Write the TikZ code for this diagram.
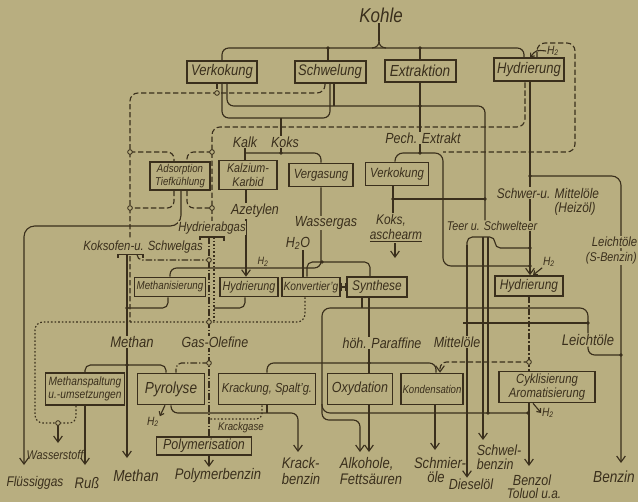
\documentclass[tikz,border=0pt]{standalone}
\usepackage{fontspec}
\setmainfont{Liberation Sans}[FakeStretch=0.85]
\usetikzlibrary{arrows.meta}
\pgfdeclarelayer{back}
\pgfdeclarelayer{lines}
\pgfsetlayers{back,lines,main}
\definecolor{bg}{RGB}{184,174,128}
\definecolor{ink}{RGB}{58,47,28}
\newcommand\fz[1]{\fontsize{#1}{#1}\selectfont\itshape}
\newcommand\fzz[2]{\fontsize{#1}{#2}\selectfont\itshape}
\begin{document}
\begin{tikzpicture}[x=0.75pt,y=-0.75pt,
  >={Straight Barb[length=4.5pt,width=6.5pt]},
  bx/.style={draw=ink,line width=1.2pt,fill=bg,inner sep=0pt,text=ink,align=center},
  tb/.style={bx,line width=1.5pt},
  lb/.style={text=ink,inner sep=0.5pt,fill=bg},
  lbn/.style={text=ink,inner sep=0.5pt},
  ln/.style={draw=ink,line width=0.85pt},
  gas/.style={ln,dash pattern=on 4pt off 2pt},
  dd/.style={ln,dash pattern=on 5pt off 1.5pt on 1pt off 1.5pt},
  dt/.style={ln,dash pattern=on 1.2pt off 1.5pt},
  jc/.style={circle,draw=ink,fill=bg,line width=0.6pt,inner sep=0pt,minimum size=3.5pt},
  jdot/.style={circle,fill=ink,inner sep=0pt,minimum size=2.8pt},
  small/.style={>={Straight Barb[length=2.5pt,width=4pt]}}]
\useasboundingbox (0,0) rectangle (638,502);
\begin{pgfonlayer}{back}
\fill[bg] (0,0) rectangle (638,502);
\end{pgfonlayer}

% ---------- boxes ----------
\node[tb,minimum width=52.5pt,minimum height=16.5pt,font=\fz{11.5}] (verk1) at (222,72) {Verkokung};
\node[tb,minimum width=53.25pt,minimum height=16.5pt,font=\fz{11.5}] (schw) at (330,72) {Schwelung};
\node[tb,minimum width=53.25pt,minimum height=16.5pt,font=\fz{12}] (extr) at (420,71) {Extraktion};
\node[tb,minimum width=52.5pt,minimum height=17.25pt,font=\fz{11.5}] (hyd1) at (529,70) {Hydrierung};
\node[bx,minimum width=45pt,minimum height=21pt,font=\fzz{8.5}{9.5}] (ads) at (180,176) {Adsorption\\Tiefkühlung};
\node[bx,minimum width=43.5pt,minimum height=21.75pt,font=\fzz{9.5}{10.5}] (kalz) at (248,175) {Kalzium-\\Karbid};
\node[bx,minimum width=48pt,minimum height=17.25pt,font=\fz{10}] (verg) at (321,175) {Vergasung};
\node[bx,minimum width=47.25pt,minimum height=17.25pt,font=\fz{10}] (verk2) at (397,174) {Verkokung};
\node[bx,minimum width=53.25pt,minimum height=14.25pt,font=\fz{8.6}] (meth) at (170,287) {Methanisierung};
\node[bx,minimum width=43.5pt,minimum height=14.25pt,font=\fz{9.5}] (hyd2) at (249,287) {Hydrierung};
\node[bx,minimum width=43.5pt,minimum height=14.25pt,font=\fz{9}] (konv) at (311,287) {Konvertier'g};
\node[bx,minimum width=45pt,minimum height=15pt,font=\fz{10.5}] (synth) at (377,287) {Synthese};
\node[bx,minimum width=51pt,minimum height=15pt,font=\fz{10.5}] (hyd3) at (529,286) {Hydrierung};
\node[bx,minimum width=59.25pt,minimum height=24pt,font=\fzz{9}{10}] (mspalt) at (85,389) {Methanspaltung\\u.-umsetzungen};
\node[bx,minimum width=50.25pt,minimum height=23.25pt,font=\fz{12}] (pyro) at (171,389) {Pyrolyse};
\node[bx,minimum width=72.75pt,minimum height=23.25pt,font=\fz{9.8}] (krack) at (267,389) {Krackung, Spalt'g.};
\node[bx,minimum width=48.75pt,minimum height=23.25pt,font=\fz{11}] (oxy) at (360,389) {Oxydation};
\node[bx,minimum width=46.5pt,minimum height=23.25pt,font=\fz{8.5}] (kond) at (432,389) {Kondensation};
\node[bx,minimum width=72pt,minimum height=23.25pt,font=\fzz{10}{11}] (cykl) at (547,387) {Cyklisierung\\Aromatisierung};
\node[bx,minimum width=71.25pt,minimum height=13.5pt,font=\fz{11}] (poly) at (204,446) {Polymerisation};

% ---------- labels ----------
\node[lbn,font=\fz{15}] (kohle) at (381,15) {Kohle};
\node[lbn,font=\fz{11}] (kalk) at (245,142) {Kalk};
\node[lbn,font=\fz{11}] (koks) at (285,142) {Koks};
\node[lb,font=\fz{11}] (pech) at (423,138) {Pech. Extrakt};
\node[lb,font=\fz{11}] (azet) at (255,211) {Azetylen};
\node[lb,font=\fz{10}] (habg) at (212,228) {Hydrierabgas};
\node[lb,font=\fz{10}] (kokso) at (143,247) {Koksofen-u. Schwelgas};
\node[lb,font=\fz{11}] (wgas) at (326,223) {Wassergas};
\node[lb,font=\fz{11}] (h2o) at (298,243) {H\textsubscript{2}O};
\node[lbn,font=\fz{8}] (h2b) at (263,262) {H\textsubscript{2}};
\node[lb,font=\fz{10.5}] (koks2) at (391,220) {Koks,};
\node[lb,font=\fz{10.5}] (asch) at (396,236) {\underline{aschearm}};
\node[lb,font=\fz{9.5}] (teer) at (492,226) {Teer u. Schwelteer};
\node[lb,font=\fz{10.5}] (schwm) at (548,193) {Schwer-u. Mittelöle};
\node[lb,font=\fz{10.5}] (heiz) at (575,209) {(Heizöl)};
\node[lb,font=\fz{10},anchor=west] (leicht1) at (591,242) {Leichtöle};
\node[lb,font=\fz{9.5},anchor=west] (sbenz) at (585,258) {(S-Benzin)};
\node[lbn,font=\fz{9}] (h2c) at (549,262) {H\textsubscript{2}};
\node[lbn,font=\fz{9}] (h2a) at (553,51) {H\textsubscript{2}};
\node[lb,font=\fz{11.5}] (methl) at (132,342) {Methan};
\node[lb,font=\fz{11}] (golef) at (215,342) {Gas-Olefine};
\node[lb,font=\fz{11}] (hpar) at (382,343) {höh. Paraffine};
\node[lb,font=\fz{11}] (mittel) at (457,342) {Mittelöle};
\node[lb,font=\fz{11.5}] (leicht2) at (588,340) {Leichtöle};
\node[lbn,font=\fz{9}] (h2d) at (153,422) {H\textsubscript{2}};
\node[lbn,font=\fz{8.5}] (krg) at (241,428) {Krackgase};
\node[lbn,font=\fz{9}] (h2e) at (548,413) {H\textsubscript{2}};
\node[lbn,font=\fz{9.5}] (wst) at (55,455) {Wasserstoff};
% outputs
\node[lbn,font=\fz{10.5}] (fluess) at (35,483) {Flüssiggas};
\node[lbn,font=\fz{11.5}] (russ) at (87,483) {Ruß};
\node[lbn,font=\fz{12}] (methout) at (136,476) {Methan};
\node[lbn,font=\fz{11.5}] (polyb) at (218,476) {Polymerbenzin};
\node[lbn,font=\fzz{11.5}{12.5},align=left] (krackb) at (301,471) {Krack-\\benzin};
\node[lbn,font=\fzz{11.5}{12.5},align=left] (alk) at (371,471) {Alkohole,\\Fettsäuren};
\node[lbn,font=\fz{11.5}] (schm) at (440,463) {Schmier-};
\node[lbn,font=\fz{11.5}] (oele) at (436,477) {öle};
\node[lbn,font=\fz{11}] (diesel) at (471,484) {Dieselöl};
\node[lbn,font=\fzz{11}{10.5},align=left] (schwb) at (499,457) {Schwel-\\benzin};
\node[lbn,font=\fz{11}] (benzol) at (532,480) {Benzol};
\node[lbn,font=\fz{10.5}] (toluol) at (534,493) {Toluol u.a.};
\node[lbn,font=\fz{12}] (benzin) at (614,477) {Benzin};

% ---------- connectors ----------
\begin{pgfonlayer}{lines}
% Kohle
\draw[ln] (kohle.south -| 379,0) -- (379,41);
\draw[ln] (372,48) .. controls (377,47.5) and (379,45) .. (379,41);
\draw[ln] (386,48) .. controls (381,47.5) and (379,45) .. (379,41);
\draw[ln,rounded corners=5] (verk1.north) |- (379,48) -| (hyd1.north -| 524,0);
\draw[ln] (schw.north -| 328,0) -- (328,48);
\draw[ln] (extr.north) -- (420,48);
\draw[ln,small,->] (h2a.west) .. controls (536,50) .. (hyd1.north -| 530,0);
\draw[gas,rounded corners=6] (hyd1.north -| 537,0) |- (575,43) |- (443,152);
% gas lines top
\draw[gas,rounded corners=6] (hyd1.south -| 525,0) |- (212,127) -- (habg.north -| 212,0);
\draw[gas,rounded corners=6] (schw.south -| 325,0) |- (130,93) -- (130,322);
\draw[gas] (verk1.south -| 217,0) -- (217,93);
% Koks / Teer
\draw[ln,rounded corners=5] (verk1.south -| 222,0) |- (281,118) -| (schw.south -| 330,0);
\draw[ln,rounded corners=5] (verk1.south -| 227,0) |- (485,106) -- (teer.north -| 485,0);
\draw[ln] (schw.south -| 334,0) -- (334,106);
\draw[ln] (extr.south) -- (420,153);
\draw[ln,rounded corners=6] (verk2.north -| 395,0) |- (443,153) |- (530,266);
% Adsorption
\draw[gas,rounded corners=5] (130,152) -| (ads.north -| 174,0);
\draw[gas,rounded corners=5] (212,152) -| (ads.north -| 187,0);
\draw[gas,rounded corners=5] (ads.south -| 174,0) |- (130,208);
\draw[gas,rounded corners=5] (ads.south -| 187,0) |- (212,208);
\draw[ln,->,rounded corners=8] (ads.south -| 181,0) |- (24,226) -- (24,465);
% Kalk / Koks
\draw[ln] (281,118) -- (koks.north -| 281,0);
\draw[ln] (koks.south -| 281,0) -- (281,153);
\draw[ln] (kalk.south) -- (kalk.south |- kalz.north);
\draw[ln,rounded corners=5] (245,153) -| (verg.north);
% Verkokung 2
\draw[ln] (verk2.south -| 393,0) -- (koks2.north -| 393,0);
\draw[ln] (393,199) -- (485,199);
\draw[ln,->] (asch.south -| 395,0) -- (395,258);
% Hydrierung 1 outputs
\draw[ln,->] (hyd1.south -| 530,0) -- (hyd3.north -| 530,0);
\draw[ln,->,rounded corners=7] (530,176) -| (621,463);
% Teer
\draw[ln,rounded corners=4] (467,250) |- (478,237) -- (495,237) |- (530,248);
\draw[ln,->] (467,245) -- (diesel.north -| 467,0);
\draw[ln,->] (483,237) -- (483,440);
\draw[ln] (488,237) -- (488,413);
\draw[ln] (463,323) -- (588,323);
% Synthese outputs
\draw[ln,rounded corners=6] (leicht2.north -| 588,0) |- (322,308) |- (528,413);
\draw[ln] (synth.south -| 362,0) -- (362,308);
\draw[ln,->,rounded corners=5] (322,404) |- (360,420) -- (360,452);
\draw[ln,rounded corners=5] (leicht2.south -| 588,0) |- (621,355);
\draw[ln] (synth.south -| 369,0) -- (oxy.north -| 369,0);
\draw[ln,rounded corners=5] (krack.north) |- (436,363) -- (kond.north -| 436,0);
% Hydrierung 3 gas
\draw[dd] (hyd3.south) -- (cykl.north -| hyd3.south);
\draw[gas,rounded corners=5,->] (529,362) -| (kond.north -| 440,0);
\draw[ln,small,->] (h2c.south west) -- (hyd3.north -| 533,0);
% Wassergas network
\draw[ln,rounded corners=5] (verg.south) |- (170,268) -- (meth.north -| 170,0);
\draw[ln,rounded corners=4] (konv.north -| 307,0) |- (370,262) -- (synth.north -| 370,0);
\draw[ln] (h2o.south -| 303,0) -- (konv.north -| 303,0);
\draw[ln,->] (kalz.south -| 246,0) -- (hyd2.north -| 246,0);
\draw[ln] (konv.east) -- (synth.west);
\draw[ln] (341.5,283) -- (341.5,291);
\draw[ln] (345.5,283) -- (345.5,291);
% Methanisierung / Hydrierung 2 outputs
\draw[ln,rounded corners=4] (meth.south -| 168,0) |- (127,308);
\draw[ln,rounded corners=4] (hyd2.south -| 245,0) |- (214,308);
% Hydrierabgas / Koksofengas
\draw[ln] (200,241) |- (224,237) -- (224,241);
\draw[dd] (209,237) -- (poly.north -| 209,0);
\draw[dt] (214,237) -- (214,322);
\draw[ln] (118,258) |- (143,254) -- (143,258);
\draw[dd,rounded corners=4] (137,254) |- (209,260);
\draw[ln,->] (127,254) -- (127,458);
% Methan distribution
\draw[ln,rounded corners=4] (mspalt.north) |- (166,365) -- (pyro.north -| 166,0);
\draw[dd,rounded corners=4] (209,363) -| (pyro.north -| 176,0);
% Wasserstoff
\draw[dt,rounded corners=6] (konv.south -| 305,0) |- (35,322) |- (58,423);
\draw[dt,rounded corners=5] (mspalt.south -| 76,0) |- (58,423);
\draw[ln,->] (58,425) -- (58,443);
\draw[ln,->] (mspalt.south) -- (85,465);
% Pyrolyse / Krackung
\draw[ln,->,rounded corners=5] (pyro.south) |- (298,413) -- (298,452);
\draw[ln] (krack.south) -- (267,413);
\draw[dt,rounded corners=4] (krack.south -| 262,0) |- (209,419);
\draw[ln,small,->] (pyro.south -| 165,0) -- (h2d.north east);
% final products
\draw[ln,->] (poly.south -| 209,0) -- (209,467);
\draw[ln,->] (oxy.south -| 369,0) -- (369,452);
\draw[ln,->] (kond.south -| 435,0) -- (435,450);
\draw[ln,->] (cykl.south -| 529,0) -- (529,466);
\draw[ln,small,->] (cykl.south -| 533,0) -- (h2e.west);
\end{pgfonlayer}

% ---------- junction marks ----------
\foreach \p/\n in {{328,48}/a1,{420,48}/a2,{420,106}/a3,{485,199}/a4,{393,199}/a5,{420,153}/a6,{281,153}/a7,{530,176}/a8,{530,248}/a9,{530,266}/a10,{322,262}/a11,{127,365}/a12,{369,363}/a13,{588,323}/a14,{621,355}/a15,{528,413}/a16,{488,413}/a17,{127,308}/a18}
  \node[jdot] (d\n) at (\p) {};
\foreach \p/\n in {{217,93}/b1,{130,152}/b2,{130,208}/b3,{212,152}/b4,{212,208}/b5,{209,260}/b6,{209,322}/b7,{209,363}/b8,{529,362}/b9,{58,423}/b10}
  \node[jc] (j\n) at (\p) {};
\end{tikzpicture}
\end{document}
